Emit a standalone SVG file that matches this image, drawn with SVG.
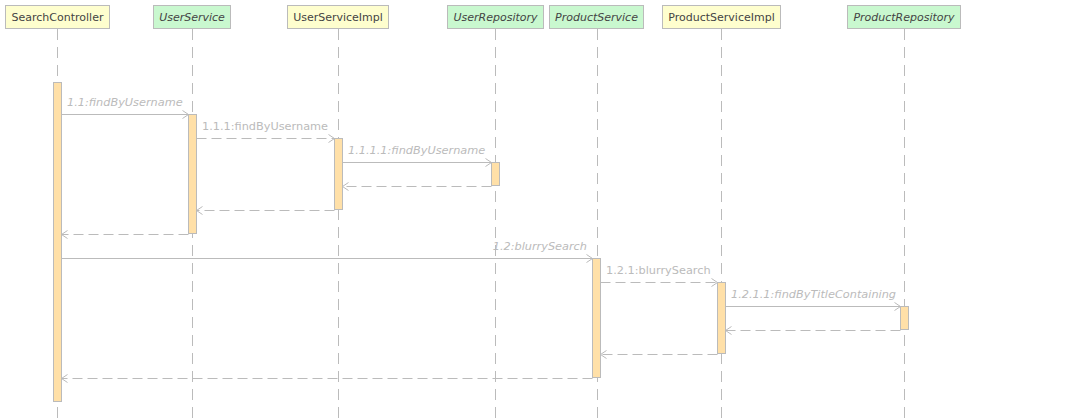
<svg xmlns="http://www.w3.org/2000/svg" width="1080" height="420" viewBox="0 0 1080 420">
<defs>
<style>
.box{stroke:#bbbbbb;stroke-width:1}
.cls{fill:#FEFECE}
.itf{fill:#C9F8CF}
.name{font-family:"DejaVu Sans",sans-serif;font-size:11px;fill:#444444;text-anchor:middle}
.it{font-style:italic}
.life{stroke:#bbbbbb;stroke-width:1;stroke-dasharray:11 7;fill:none}
.act{fill:#FFE0A8;stroke:#bbbbbb;stroke-width:1}
.msg{stroke:#bbbbbb;stroke-width:1;fill:none;marker-end:url(#ah)}
.ret{stroke-dasharray:10 5}
.lbl{font-family:"DejaVu Sans",sans-serif;font-size:11.3px;fill:#bbbbbb}
</style>
<marker id="ah" markerWidth="10" markerHeight="10" refX="7" refY="5" orient="auto" markerUnits="userSpaceOnUse">
<path d="M1,1 L7,5 L1,9" fill="none" stroke="#bbbbbb" stroke-width="1"/>
</marker>
</defs>
<rect width="1080" height="420" fill="#ffffff"/>
<g id="lifelines">
<line class="life" x1="57.5" y1="29" x2="57.5" y2="420"/>
<line class="life" x1="192.5" y1="29" x2="192.5" y2="420"/>
<line class="life" x1="338.5" y1="29" x2="338.5" y2="420"/>
<line class="life" x1="495.5" y1="29" x2="495.5" y2="420"/>
<line class="life" x1="597.5" y1="29" x2="597.5" y2="420"/>
<line class="life" x1="721.5" y1="29" x2="721.5" y2="420"/>
<line class="life" x1="904.5" y1="29" x2="904.5" y2="420"/>
</g>
<g id="SearchController">
<rect class="box cls" x="5.5" y="5.5" width="104" height="23"/>
<text class="name" x="57.5" y="21">SearchController</text>
<rect class="act" x="53.5" y="82.5" width="8" height="319"/>
</g>
<g id="UserService">
<rect class="box itf" x="153.5" y="5.5" width="77" height="23"/>
<text class="name it" x="192" y="21">UserService</text>
<rect class="act" x="188.5" y="114.5" width="8" height="119"/>
</g>
<g id="UserServiceImpl">
<rect class="box cls" x="287.5" y="5.5" width="101" height="23"/>
<text class="name" x="338" y="21">UserServiceImpl</text>
<rect class="act" x="334.5" y="138.5" width="8" height="71"/>
</g>
<g id="UserRepository">
<rect class="box itf" x="447.5" y="5.5" width="96" height="23"/>
<text class="name it" x="495.5" y="21">UserRepository</text>
<rect class="act" x="491.5" y="162.5" width="8" height="23"/>
</g>
<g id="ProductService">
<rect class="box itf" x="549.5" y="5.5" width="94" height="23"/>
<text class="name it" x="596.5" y="21">ProductService</text>
<rect class="act" x="592.5" y="258.5" width="8" height="119"/>
</g>
<g id="ProductServiceImpl">
<rect class="box cls" x="662.5" y="5.5" width="118" height="23"/>
<text class="name" x="721.5" y="21">ProductServiceImpl</text>
<rect class="act" x="717.5" y="282.5" width="8" height="71"/>
</g>
<g id="ProductRepository">
<rect class="box itf" x="847.5" y="5.5" width="113" height="23"/>
<text class="name it" x="904" y="21">ProductRepository</text>
<rect class="act" x="900.5" y="306.5" width="8" height="23"/>
</g>
<g id="connectors">
<line class="msg" x1="61.5" y1="114.5" x2="188.5" y2="114.5"/>
<text class="lbl it" x="67" y="106">1.1:findByUsername</text>
<line class="msg ret" x1="196.5" y1="138.5" x2="334.5" y2="138.5"/>
<text class="lbl" x="202" y="130">1.1.1:findByUsername</text>
<line class="msg" x1="342.5" y1="162.5" x2="491.5" y2="162.5"/>
<text class="lbl it" x="348" y="154">1.1.1.1:findByUsername</text>
<line class="msg ret" x1="491.5" y1="186.5" x2="342.5" y2="186.5"/>
<line class="msg ret" x1="334.5" y1="210.5" x2="196.5" y2="210.5"/>
<line class="msg ret" x1="188.5" y1="234.5" x2="61.5" y2="234.5"/>
<line class="msg" x1="61.5" y1="258.5" x2="592.5" y2="258.5"/>
<text class="lbl it" x="587" y="250" text-anchor="end">1.2:blurrySearch</text>
<line class="msg ret" x1="600.5" y1="282.5" x2="717.5" y2="282.5"/>
<text class="lbl" x="606" y="274">1.2.1:blurrySearch</text>
<line class="msg" x1="725.5" y1="306.5" x2="900.5" y2="306.5"/>
<text class="lbl it" x="731" y="298">1.2.1.1:findByTitleContaining</text>
<line class="msg ret" x1="900.5" y1="330.5" x2="725.5" y2="330.5"/>
<line class="msg ret" x1="717.5" y1="354.5" x2="600.5" y2="354.5"/>
<line class="msg ret" x1="592.5" y1="378.5" x2="61.5" y2="378.5"/>
</g>
</svg>
